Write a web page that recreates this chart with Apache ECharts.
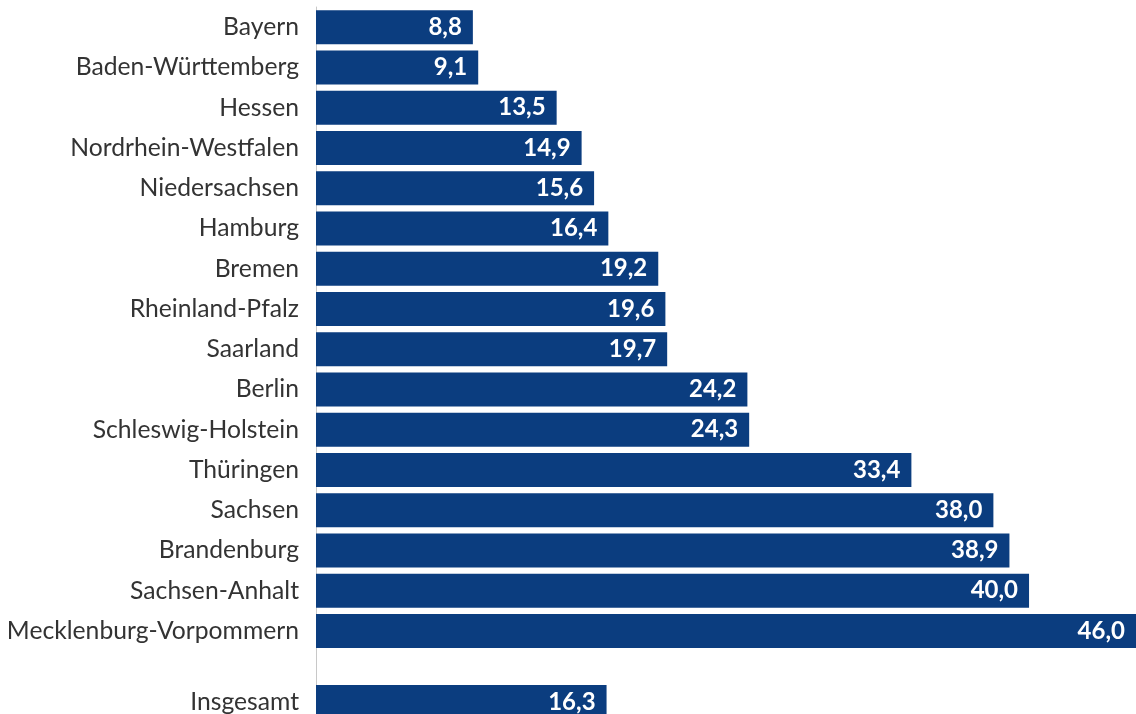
<!DOCTYPE html>
<html><head><meta charset="utf-8">
<script src="https://cdn.jsdelivr.net/npm/echarts@6/dist/echarts.min.js"></script>
<style>html,body{margin:0;padding:0;background:#fff}#c{width:1136px;height:714px}</style>
</head><body><div id="c"></div>
<script>
const states = ["Bayern","Baden-Württemberg","Hessen","Nordrhein-Westfalen","Niedersachsen","Hamburg","Bremen","Rheinland-Pfalz","Saarland","Berlin","Schleswig-Holstein","Thüringen","Sachsen","Brandenburg","Sachsen-Anhalt","Mecklenburg-Vorpommern"];
const stateValues = [8.8,9.1,13.5,14.9,15.6,16.4,19.2,19.6,19.7,24.2,24.3,33.4,38.0,38.9,40.0,46.0];
const totalCategory = ["Insgesamt"];
const totalValues = [16.3];

const barColor = '#0b3d7f';
const font = 'Lato';
const fmt = p => p.value.toFixed(1).replace('.', ',');
const labelCfg = {show:true, position:'insideRight', distance:11, color:'#fff', fontWeight:'bold', fontSize:24, fontFamily:font, formatter:fmt};
const yAx = (data, idx) => ({
  type:'category', gridIndex:idx, data:data, inverse:true,
  axisLine:{show:true, lineStyle:{color:'#c8c8c8', width:1}},
  axisTick:{show:false},
  axisLabel:{color:'#333', fontSize:24.7, fontFamily:font, margin:17}
});
const xAx = idx => ({type:'value', gridIndex:idx, min:0, max:46, show:false});

const chart = echarts.init(document.getElementById('c'));
chart.setOption({
  animation:false,
  grid:[
    {left:316, right:0, top:7, height:644, containLabel:false, outerBoundsMode:'none'},
    {left:316, right:0, top:651, height:102, containLabel:false, outerBoundsMode:'none'}
  ],
  xAxis:[xAx(0), xAx(1)],
  yAxis:[yAx(states,0), yAx(totalCategory,1)],
  series:[
    {type:'bar', xAxisIndex:0, yAxisIndex:0, data:stateValues, barWidth:34, itemStyle:{color:barColor}, label:labelCfg},
    {type:'bar', xAxisIndex:1, yAxisIndex:1, data:totalValues, barWidth:34, itemStyle:{color:barColor}, label:labelCfg}
  ]
});
</script></body></html>
